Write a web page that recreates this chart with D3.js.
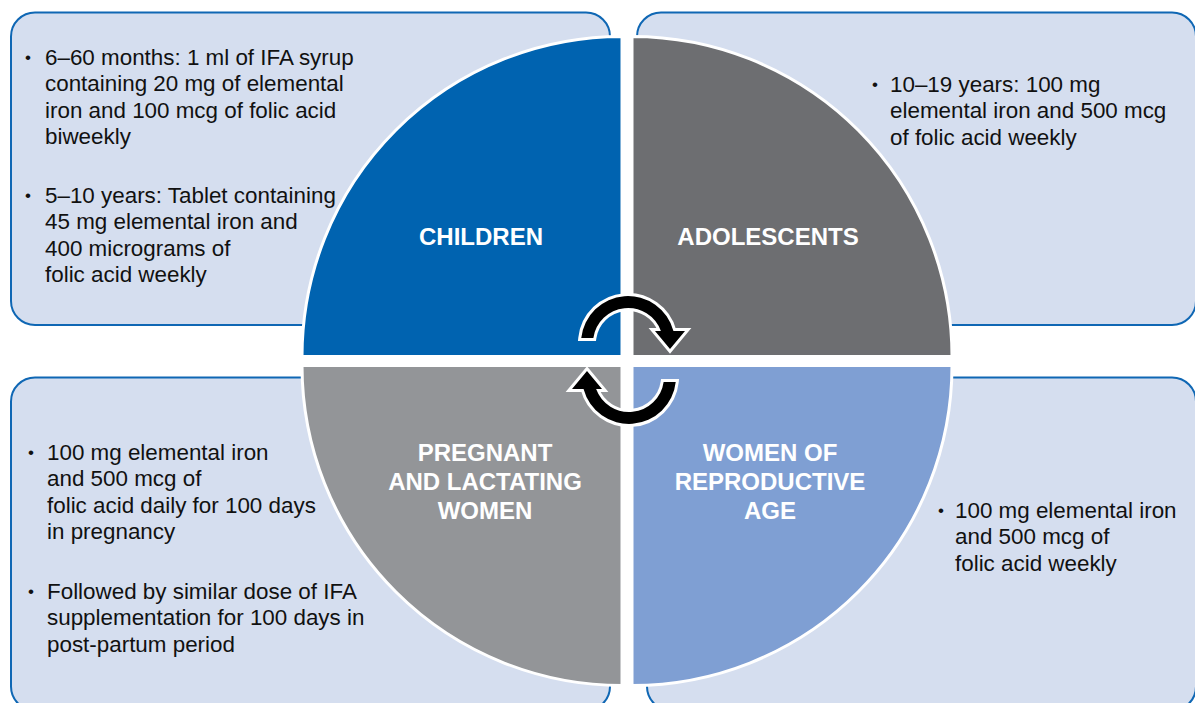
<!DOCTYPE html>
<html>
<head>
<meta charset="utf-8">
<script src="https://cdn.jsdelivr.net/npm/d3@7"></script>
<style>
  body { margin: 0; background: #fff; }
  svg { display: block; font-family: "Liberation Sans", Arial, sans-serif; }
</style>
</head>
<body>
<svg id="chart"></svg>
<script>
// groups, in clockwise order starting top-left
var groups = ["CHILDREN", "ADOLESCENTS", "WOMEN OF REPRODUCTIVE AGE", "PREGNANT AND LACTATING WOMEN"];
var shares = [1, 1, 1, 1];
var labelLines = [
    ["CHILDREN"],
    ["ADOLESCENTS"],
    ["WOMEN OF", "REPRODUCTIVE", "AGE"],
    ["PREGNANT", "AND LACTATING", "WOMEN"]
];
var notes = [
    [["6–60 months: 1 ml of IFA syrup", "containing 20 mg of elemental", "iron and 100 mcg of folic acid", "biweekly"],
     ["5–10 years: Tablet containing", "45 mg elemental iron and", "400 micrograms of", "folic acid weekly"]],
    [["10–19 years: 100 mg", "elemental iron and 500 mcg", "of folic acid weekly"]],
    [["100 mg elemental iron", "and 500 mcg of", "folic acid weekly"]],
    [["100 mg elemental iron", "and 500 mcg of", "folic acid daily for 100 days", "in pregnancy"],
     ["Followed by similar dose of IFA", "supplementation for 100 days in", "post-partum period"]]
];
var colors = ["#0063b0", "#6d6e71", "#7f9fd3", "#939598"];

// layout
var W = 1195, H = 703;
var cx = 627, cy = 361, gapX = 5, gapY = 4.5, R = 320;
var boxes = [
    {x: 11, y: 12.5, w: 599, h: 312.5, tx: 45, bx: 25, ty: [65, 203]},
    {x: 637, y: 12.5, w: 559, h: 312.5, tx: 890, bx: 872, ty: [92]},
    {x: 647, y: 377.5, w: 549, h: 333, tx: 955, bx: 938, ty: [518]},
    {x: 11, y: 377.5, w: 599, h: 333, tx: 47, bx: 28, ty: [460, 599]}
];
var lineH = 26.4;
var labelPos = [[-146, -124], [141, -124], [143, 121], [-142, 121]];

var svg = d3.select("#chart").attr("width", W).attr("height", H);

// note boxes
svg.selectAll("rect.box")
    .data(boxes)
    .enter()
    .append("rect")
    .attr("class", "box")
    .attr("x", d => d.x).attr("y", d => d.y)
    .attr("width", d => d.w).attr("height", d => d.h)
    .attr("rx", 24).attr("ry", 24)
    .attr("fill", "#d5deef")
    .attr("stroke", "#0f67b4")
    .attr("stroke-width", 2);

// quadrants
var pie = d3.pie().sort(null).value(d => d)
    .startAngle(-Math.PI / 2).endAngle(3 * Math.PI / 2);
var arc = d3.arc().innerRadius(0).outerRadius(R);

var slices = svg.selectAll("g.slice")
    .data(pie(shares))
    .enter()
    .append("g")
    .attr("class", "slice")
    .attr("transform", function(d) {
        var m = (d.startAngle + d.endAngle) / 2;
        var sx = Math.sin(m) > 0 ? 1 : -1, sy = -Math.cos(m) > 0 ? 1 : -1;
        d.sx = sx; d.sy = sy;
        return "translate(" + (cx + sx * gapX) + "," + (cy + sy * gapY) + ")";
    });

slices.append("path")
    .attr("d", arc)
    .attr("fill", (d, i) => colors[i])
    .attr("stroke", "#fff")
    .attr("stroke-width", 3);

// quadrant labels
slices.append("text")
    .attr("text-anchor", "middle")
    .attr("fill", "#fff")
    .attr("font-weight", "bold")
    .attr("font-size", "24px")
    .each(function(d, i) {
        var lines = labelLines[i];
        var t = d3.select(this);
        var x = labelPos[i][0] - d.sx * gapX, y0 = labelPos[i][1] - d.sy * gapY;
        lines.forEach(function(l, k) {
            t.append("tspan")
                .attr("x", x)
                .attr("y", y0 + (k - (lines.length - 1) / 2) * 29)
                .attr("dy", "0.35em")
                .text(l);
        });
    });

// notes text
boxes.forEach(function(b, i) {
    notes[i].forEach(function(lines, j) {
        var g = svg.append("g");
        g.append("text")
            .attr("x", b.bx).attr("y", b.ty[j] - 2)
            .attr("font-size", "17px")
            .attr("fill", "#111")
            .text("•");
        var t = g.append("text")
            .attr("font-size", "22.4px")
            .attr("fill", "#111");
        lines.forEach(function(l, k) {
            t.append("tspan").attr("x", b.tx).attr("y", b.ty[j] + k * lineH).text(l);
        });
    });
});

// cycle arrows
var Ro = 47, Ri = 35, cutY = -12, a0 = Math.atan2(-5, -Ro);
function arrowPath() {
    var p = d3.path();
    var a1o = Math.atan2(cutY, Math.sqrt(Ro * Ro - cutY * cutY));
    var a1i = Math.atan2(cutY, Math.sqrt(Ri * Ri - cutY * cutY));
    var a0i = Math.atan2(-5, -Math.sqrt(Ri * Ri - 25));
    p.moveTo(Ro * Math.cos(a0), Ro * Math.sin(a0));
    p.arc(0, 0, Ro, a0, a1o, false);
    p.lineTo(57, cutY);
    p.lineTo(42, 6);
    p.lineTo(27, cutY);
    p.lineTo(Ri * Math.cos(a1i), Ri * Math.sin(a1i));
    p.arc(0, 0, Ri, a1i, a0i, true);
    p.closePath();
    return p.toString();
}
[[628, 343, 0], [629, 377, 180]].forEach(function(a) {
    svg.append("path")
        .attr("d", arrowPath())
        .attr("transform", "translate(" + a[0] + "," + a[1] + ") rotate(" + a[2] + ")")
        .attr("fill", "#000")
        .attr("stroke", "#fff")
        .attr("stroke-width", 6)
        .attr("stroke-linejoin", "miter")
        .style("paint-order", "stroke");
});
</script>
</body>
</html>
